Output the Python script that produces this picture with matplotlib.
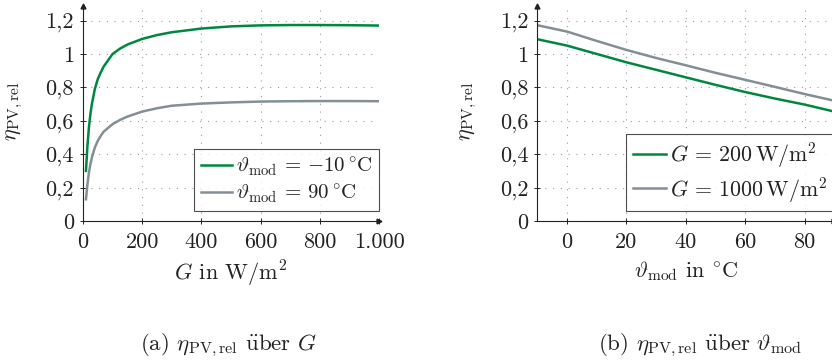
import matplotlib
matplotlib.use("Agg")
import matplotlib.pyplot as plt

plt.rcParams['font.family'] = ['cmr10', 'DejaVu Serif']
plt.rcParams['mathtext.fontset'] = 'cm'
plt.rcParams['axes.unicode_minus'] = False

gruen = '#00873f'
grau = '#838f94'
dunkel = '#222222'

# eta_PV,rel ueber Einstrahlung G
G = [10, 15, 20, 25, 30, 40, 50, 60, 70, 80, 100, 125, 150, 200, 250, 300,
     400, 500, 600, 700, 800, 900, 1000]
eta_kalt = [0.30, 0.45, 0.56, 0.64, 0.70, 0.79, 0.85, 0.89, 0.925, 0.95, 1.0,
            1.032, 1.056, 1.09, 1.113, 1.13, 1.152, 1.165, 1.171, 1.173, 1.173,
            1.172, 1.170]
eta_heiss = [0.13, 0.22, 0.29, 0.34, 0.38, 0.44, 0.48, 0.51, 0.535, 0.55, 0.58,
             0.605, 0.625, 0.655, 0.675, 0.69, 0.703, 0.71, 0.715, 0.717,
             0.718, 0.718, 0.717]

# eta_PV,rel ueber Modultemperatur
theta = [-10, 0, 10, 20, 30, 40, 50, 60, 70, 80, 90]
eta_G200 = [1.088, 1.05, 1.0, 0.95, 0.905, 0.86, 0.815, 0.772, 0.733, 0.697, 0.655]
eta_G1000 = [1.172, 1.134, 1.078, 1.024, 0.976, 0.932, 0.887, 0.845, 0.803, 0.76, 0.72]

y_ticks = [0, 0.2, 0.4, 0.6, 0.8, 1.0, 1.2]
y_labels = ['0', '0,2', '0,4', '0,6', '0,8', '1', '1,2']
G_ticks = [0, 200, 400, 600, 800, 1000]
G_labels = ['0', '200', '400', '600', '800', '1.000']
theta_ticks = [0, 20, 40, 60, 80]
theta_labels = ['0', '20', '40', '60', '80']

W, H = 832, 361
fig = plt.figure(figsize=(W / 100, H / 100), dpi=100)
ax1 = fig.add_axes([83 / W, (H - 221) / H, 296 / W, 215.5 / H])
ax2 = fig.add_axes([537.3 / W, (H - 221) / H, 297 / W, 215.5 / H])

UEBER = r'$\ddot{\rm u}$ber'


def achsen(ax, xlim):
    ax.set_xlim(*xlim)
    ax.set_ylim(0, 1.29)
    for s in ['top', 'right']:
        ax.spines[s].set_visible(False)
    for s in ['left', 'bottom']:
        ax.spines[s].set_color(dunkel)
        ax.spines[s].set_linewidth(0.8)
    ax.tick_params(direction='inout', length=5, width=0.7, color=dunkel,
                   labelsize=16, labelcolor=dunkel)
    ax.tick_params(axis='y', pad=4)
    ax.tick_params(axis='x', pad=6)
    ax.grid(True, color='#9a9a9a', linewidth=0.8, linestyle=(0, (1, 6)))
    ax.set_axisbelow(True)
    ax.set_yticks(y_ticks)
    ax.set_yticklabels(y_labels)
    # Pfeilspitzen an den Achsenenden
    ax.plot(1, 0, '>', color=dunkel, ms=3.5, transform=ax.transAxes, clip_on=False)
    ax.plot(0, 1, '^', color=dunkel, ms=3.5, transform=ax.transAxes, clip_on=False)
    ax.set_ylabel(r'$\eta_{\rm PV,rel}$', fontsize=16, color=dunkel, va='center')
    ax.yaxis.set_label_coords(-68 / 296, 0.51)


achsen(ax1, (0, 1000))
ax1.set_xticks(G_ticks)
ax1.set_xticklabels(G_labels)
ax1.plot(G, eta_kalt, color=gruen, lw=1.8, label=r'$\vartheta_{\rm mod}$ = $-10\,^{\circ}\mathrm{C}$')
ax1.plot(G, eta_heiss, color=grau, lw=1.8, label=r'$\vartheta_{\rm mod}$ = $90\,^{\circ}\mathrm{C}$')
ax1.set_xlabel(r'$G$ in W/m$^2$', fontsize=16, color=dunkel, labelpad=5)

achsen(ax2, (-10, 90))
ax2.set_xticks(theta_ticks)
ax2.set_xticklabels(theta_labels)
ax2.plot(theta, eta_G200, color=gruen, lw=1.8, label=r'$G$ = 200$\,$W/m$^2$')
ax2.plot(theta, eta_G1000, color=grau, lw=1.8, label=r'$G$ = 1000$\,$W/m$^2$')
ax2.set_xlabel(r'$\vartheta_{\rm mod}$ in $^{\circ}\mathrm{C}$', fontsize=16, color=dunkel, labelpad=5)

for ax, fs in ((ax1, 15), (ax2, 15.8)):
    leg = ax.legend(loc='lower right', bbox_to_anchor=(1.0, 0.046), borderaxespad=0,
                    fontsize=fs, frameon=True, fancybox=False, handlelength=1.5,
                    handletextpad=0.2, borderpad=0.3, labelspacing=0.2)
    leg.get_frame().set_edgecolor(dunkel)
    leg.get_frame().set_linewidth(0.8)
    for t in leg.get_texts():
        t.set_color(dunkel)

fig.text(229 / W, 1 - 345 / H, r'(a) $\eta_{\rm PV,rel}$ ' + UEBER + r' $G$', fontsize=16.5,
         ha='center', va='center', color=dunkel)
fig.text(700 / W, 1 - 345 / H, r'(b) $\eta_{\rm PV,rel}$ ' + UEBER + r' $\vartheta_{\rm mod}$',
         fontsize=16.5, ha='center', va='center', color=dunkel)

fig.savefig('out.png', dpi=100)
